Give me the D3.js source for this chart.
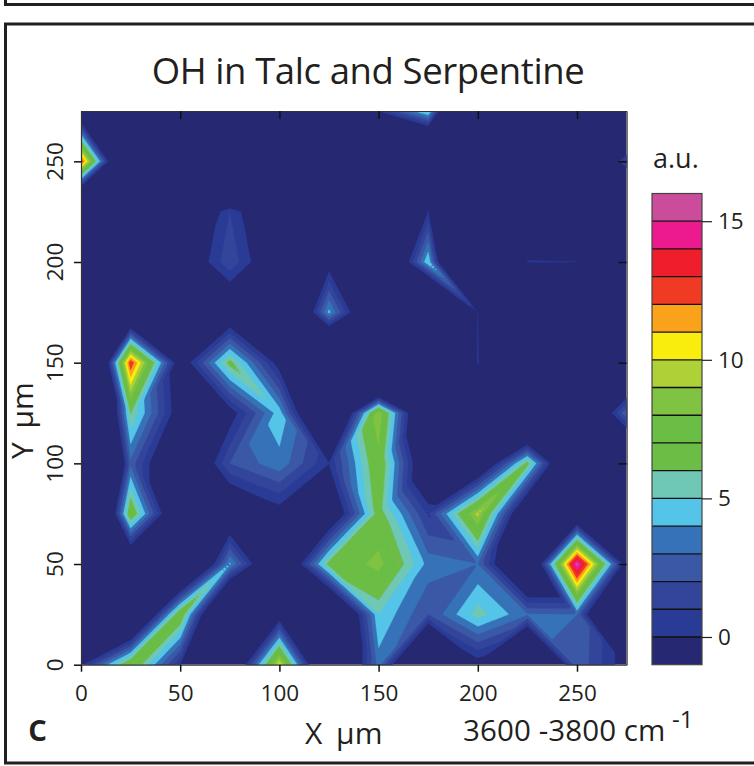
<!DOCTYPE html>
<html><head><meta charset="utf-8">
<script src="https://cdn.jsdelivr.net/npm/d3@7/dist/d3.min.js"></script>
<style>
html,body{margin:0;padding:0;background:#fff}
svg{display:block}
text{font-family:"Open Sans",sans-serif;fill:#231f20}
</style></head><body><div id="chart"></div>
<script>
// Map positions (micrometres)
const xPositions = [0,25,50,75,100,125,150,175,200,225,250,275];
const yPositions = [275,250,225,200,175,150,125,100,75,50,25,0];
const row275 = [-3.9,-3,-3,-3,-3,-3,0.1,5.5,-20,-3,-3,-8];
const row250 = [13,-10.6,-3,-15,-3,-3,-5,-13,-5,-3,-6.5,1.2];
const row225 = [-13,-3,-4.2,1,-3.5,-3,-3,0.05,-3,-3,-3,-8];
const row200 = [-3,-3,-2.4,1.8,-2.4,-1,-7.8,5,-20,0.1,0.02,-3];
const row175 = [-3,-6,-3,-2.8,-9.1,4.3,-5.7,-13,0.05,-15,-10,-3];
const row150 = [-16,13,-1.7,6.5,-0.9,-11.6,-20,-20,0.3,-20,-3,-7];
const row125 = [-16.5,6.1,-1.3,-0.85,4.6,-8,9,-6,-15,-11,-7,3];
const row100 = [-20,2.7,-4.4,2,3.7,0.05,7.5,-3.4,-4,6.5,-7.6,-7];
const row75  = [-16.7,7.5,-4.4,-3,-0.8,-3.1,6.7,0.8,9.5,-4.3,-4.4,-3];
const row50  = [-3,-4.6,-9,4.2,-5,6.5,8.5,3.6,3,-6,15.7,-1.4];
const row25  = [-3,-8,7.5,-9.75,-1.5,-7.5,5,2,5.5,3.1,3,-12];
const row0   = [-0.3,7.7,0.05,-4.8,10.3,-7,3.5,-9,-0.8,-10,2.9,-0.9];
const intensityRows = [row275,row250,row225,row200,row175,row150,row125,row100,row75,row50,row25,row0];
const cellSplits = [[3,4,true],[4,4,false],[5,4,true],[9,0,false],[10,0,false]];
// Colour levels
const levels = [-1,0,1,2,3,4,5,6,7,8,9,10,11,12,13,14,15];
const levelColors = ["#262871","#2a3b96","#33459b","#3a58a6","#3672b8","#54c5e8","#6fc7b5","#6cbd45","#6abd45","#80c342","#add136","#f9ed0e","#faa21a","#f03a24","#ee1e2d","#ed1a8f","#cb4c9a"];
const xTicks = [0,50,100,150,200,250];
const yTicks = [0,50,100,150,200,250];
const barTicks = [0,5,10,15];

const W=754,H=766;
const svg=d3.select("#chart").append("svg").attr("width",W).attr("height",H);
const x=d3.scaleLinear().domain([0,275]).range([81,626.6]);
const y=d3.scaleLinear().domain([0,275]).range([664.7,111]);
const bar=d3.scaleLinear().domain([-1,16]).range([664.7,193.5]);

// panel frames
const ink="#231f20";
svg.append("path").attr("d","M5.5,0V4.5H754").attr("fill","none").attr("stroke",ink).attr("stroke-width",3);
svg.append("path").attr("d","M754,24H5.5V763H754").attr("fill","none").attr("stroke",ink).attr("stroke-width",3);

// surface: each grid cell is split into two triangles
const nx=xPositions.length, ny=intensityRows.length;
const at=(i,j)=>intensityRows[ny-1-j][i];
const splitOf=new Map(cellSplits.map(c=>[c[0]+","+c[1],c[2]]));
function throughOrigin(i,j,a,b,c,d){ // a=(i,j) b=(i+1,j) c=(i,j+1) d=(i+1,j+1)
  const key=i+","+j;
  if(splitOf.has(key)) return splitOf.get(key);
  const s=[{v:a,k:0},{v:d,k:0},{v:b,k:1},{v:c,k:1}].sort((p,q)=>q.v-p.v);
  if(s[0].k===s[1].k && s[1].v>=0 && s[1].v-s[2].v>2.5) return s[0].k===0;
  return s[0].k===1;
}
function surface(gx,gy){
  const i=Math.min(nx-2,Math.floor(gx)), j=Math.min(ny-2,Math.floor(gy));
  const u=gx-i,v=gy-j;
  const a=at(i,j),b=at(i+1,j),c=at(i,j+1),d=at(i+1,j+1);
  if(throughOrigin(i,j,a,b,c,d)){
    return u>=v ? a+u*(b-a)+v*(d-b) : a+v*(c-a)+u*(d-c);
  }
  return u+v<=1 ? a+u*(b-a)+v*(c-a) : d+(1-u)*(c-d)+(1-v)*(b-d);
}
const f=20, fw=(nx-1)*f+1, fh=(ny-1)*f+1;
const fine=new Float64Array(fw*fh);
for(let l=0;l<fh;l++)for(let k=0;k<fw;k++)fine[k+l*fw]=surface(k/f,l/f);
const step=xPositions[1]-xPositions[0];
const proj=d3.geoTransform({point(px,py){
  this.stream.point(x((px-0.5)/f*step),y((py-0.5)/f*step));
}});
const path=d3.geoPath(proj);
const contours=d3.contours().size([fw,fh]).thresholds(levels.slice(1))(fine);

svg.append("clipPath").attr("id","plotclip").append("rect")
  .attr("x",x(0)).attr("y",y(275)).attr("width",x(275)-x(0)).attr("height",y(0)-y(275));
const plot=svg.append("g").attr("clip-path","url(#plotclip)");
plot.append("rect").attr("x",x(0)).attr("y",y(275)).attr("width",x(275)-x(0)).attr("height",y(0)-y(275)).attr("fill",levelColors[0]);
plot.selectAll("path.band").data(contours).join("path").attr("class","band")
  .attr("d",path).attr("fill",(d,i)=>levelColors[i+1]).attr("stroke",(d,i)=>levelColors[i+1]).attr("stroke-width",0.3);

// axes
function styleAxis(g,size){
  g.select(".domain").attr("stroke","#333").attr("stroke-width",1.2);
  g.selectAll(".tick line").attr("stroke","#111").attr("stroke-width",1.5);
  g.selectAll(".tick text").attr("font-size",size).attr("font-family",'"Open Sans",sans-serif').attr("fill",ink);
}
const gb=svg.append("g").attr("transform",`translate(0,${y(0)})`)
  .call(d3.axisBottom(x).tickValues(xTicks).tickSize(7).tickSizeOuter(0).tickPadding(13));
styleAxis(gb,22.5);
const gt=svg.append("g").attr("transform",`translate(0,${y(275)})`)
  .call(d3.axisBottom(x).tickValues(xTicks.slice(1)).tickSize(8).tickSizeOuter(0).tickFormat(""));
styleAxis(gt,20);
const gl=svg.append("g").attr("transform",`translate(${x(0)},0)`)
  .call(d3.axisLeft(y).tickValues(yTicks).tickSize(7).tickSizeOuter(0).tickFormat(""));
styleAxis(gl,20);
const gr=svg.append("g").attr("transform",`translate(${x(275)},0)`)
  .call(d3.axisLeft(y).tickValues(yTicks.slice(1)).tickSize(8).tickSizeOuter(0).tickFormat(""));
styleAxis(gr,20);
svg.selectAll("text.ylab").data(yTicks).join("text").attr("class","ylab")
  .attr("transform",d=>`translate(63,${y(d)}) rotate(-90)`).attr("text-anchor","middle")
  .attr("font-size",22.5).text(d=>d);

// colour bar
const bx=652,bw=50;
svg.selectAll("rect.cell").data(levels).join("rect").attr("class","cell")
  .attr("x",bx).attr("width",bw).attr("y",d=>bar(d+1)).attr("height",d=>bar(d)-bar(d+1))
  .attr("fill",(d,i)=>levelColors[i]);
svg.selectAll("line.sep").data(levels.slice(1)).join("line").attr("class","sep")
  .attr("x1",bx).attr("x2",bx+bw).attr("y1",d=>bar(d)).attr("y2",d=>bar(d))
  .attr("stroke","#111").attr("stroke-width",1.3);
svg.append("rect").attr("x",bx).attr("y",bar(16)).attr("width",bw).attr("height",bar(-1)-bar(16))
  .attr("fill","none").attr("stroke","#444").attr("stroke-width",1.2);
const gc=svg.append("g").attr("transform",`translate(${bx+bw},0)`)
  .call(d3.axisRight(bar).tickValues(barTicks).tickSize(10).tickSizeOuter(0).tickPadding(6));
gc.select(".domain").remove();
gc.selectAll(".tick line").attr("stroke","#231f20").attr("stroke-width",1.2);
gc.selectAll(".tick text").attr("font-size",22.5).attr("font-family",'"Open Sans",sans-serif').attr("fill",ink);

// text
svg.append("text").attr("x",368).attr("y",84).attr("text-anchor","middle").attr("font-size",36.5).attr("letter-spacing",-0.4).text("OH in Talc and Serpentine");
svg.append("text").attr("x",653).attr("y",168).attr("font-size",27).text("a.u.");
svg.append("text").attr("transform","translate(33,459) rotate(-90)").attr("font-size",30).attr("word-spacing",6).text("Y µm");
svg.append("text").attr("x",305).attr("y",744).attr("font-size",30).attr("word-spacing",6).text("X µm");
svg.append("text").attr("x",28).attr("y",741).attr("font-size",38).attr("font-weight",600).text("c");
svg.append("text").attr("x",463).attr("y",741).attr("font-size",29.5).attr("letter-spacing",0.1).text("3600 -3800 cm");
svg.append("text").attr("x",672).attr("y",728).attr("font-size",24).text("-1");
</script></body></html>
